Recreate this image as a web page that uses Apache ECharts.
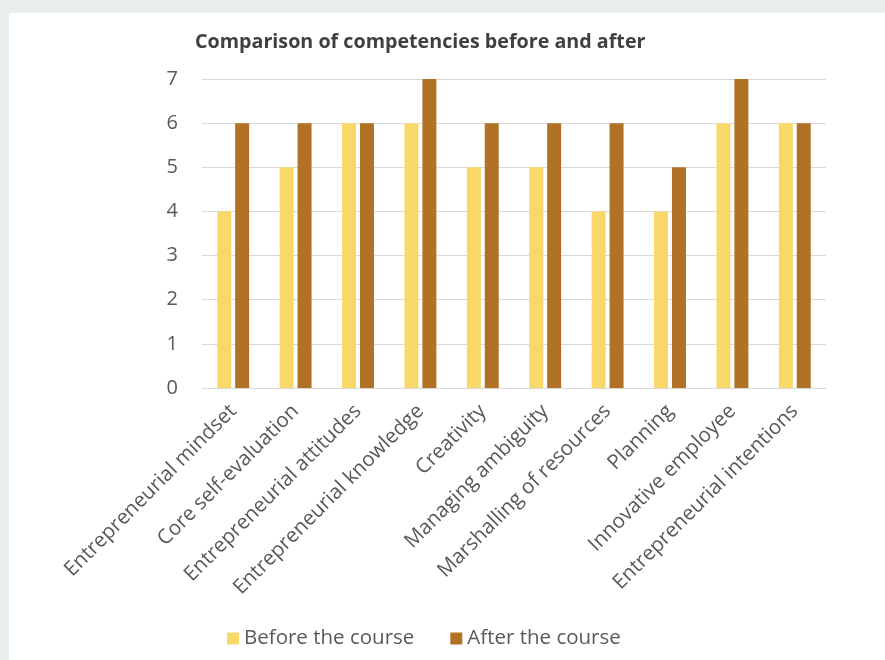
<!DOCTYPE html>
<html>
<head>
<meta charset="utf-8">
<script src="https://cdn.jsdelivr.net/npm/echarts@6/dist/echarts.min.js"></script>
<style>
  html, body { margin: 0; padding: 0; background: #e8eeeb; }
  #chart { width: 885px; height: 660px; }
</style>
</head>
<body>
<div id="chart"></div>
<script>
// data
const categories = [
  'Entrepreneurial mindset', 'Core self-evaluation', 'Entrepreneurial attitudes',
  'Entrepreneurial knowledge', 'Creativity', 'Managing ambiguity',
  'Marshalling of resources', 'Planning', 'Innovative employee', 'Entrepreneurial intentions'
];
const beforeCourse = [4, 5, 6, 6, 5, 5, 4, 4, 6, 6];
const afterCourse = [6, 6, 6, 7, 6, 6, 6, 5, 7, 6];
const seriesNames = ['Before the course', 'After the course'];

const FONT = '"Open Sans", sans-serif';
const chart = echarts.init(document.getElementById('chart'));

chart.setOption({
  backgroundColor: 'transparent',
  animation: false,
  graphic: [{
    type: 'rect', z: -10, silent: true,
    shape: { x: 9, y: 13, width: 876, height: 647 },
    style: { fill: '#ffffff' }
  }],
  title: {
    text: 'Comparison of competencies before and after',
    left: 190, top: 27,
    textStyle: { fontFamily: FONT, fontSize: 19.7, fontWeight: 'bold', color: '#404040' }
  },
  legend: {
    data: seriesNames,
    left: 222, top: 623,
    itemWidth: 12, itemHeight: 12, itemGap: 36,
    icon: 'rect',
    textStyle: { fontFamily: FONT, fontSize: 20.5, color: '#595959' }
  },
  grid: { left: 202, right: 59, top: 79, bottom: 272 },
  xAxis: {
    type: 'category',
    data: categories,
    axisLine: { show: true, lineStyle: { color: '#d9d9d9' } },
    axisTick: { show: false },
    axisLabel: {
      rotate: 45, interval: 0, margin: 20,
      fontFamily: FONT, fontSize: 20.5, color: '#595959'
    }
  },
  yAxis: {
    type: 'value',
    min: 0, max: 7, interval: 1,
    axisLine: { show: false },
    axisTick: { show: false },
    axisLabel: { margin: 24, fontFamily: FONT, fontSize: 20, color: '#595959' },
    splitLine: { lineStyle: { color: '#d9d9d9', width: 1 } }
  },
  series: [
    {
      name: seriesNames[0], type: 'bar', data: beforeCourse,
      barWidth: 14, barGap: '28%',
      itemStyle: { color: '#f9d86a' }
    },
    {
      name: seriesNames[1], type: 'bar', data: afterCourse,
      barWidth: 14, barGap: '28%',
      itemStyle: { color: '#b27226' }
    }
  ]
});
</script>
</body>
</html>
